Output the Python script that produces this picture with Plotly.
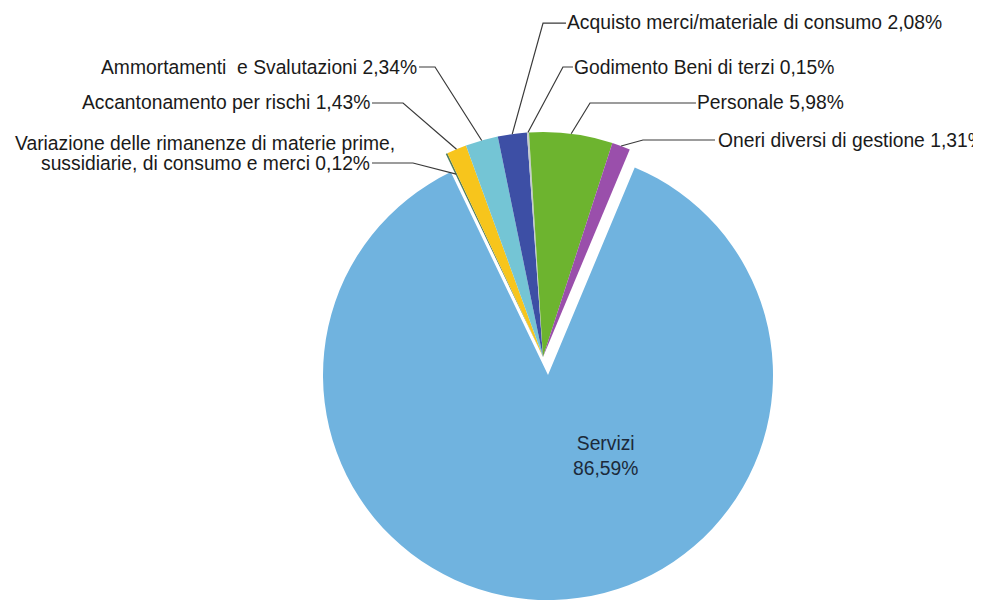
import math
import plotly.graph_objects as go

# slices, clockwise from the left edge of the exploded group
labels = [
    'Variazione delle rimanenze di materie prime,<br>sussidiarie, di consumo e merci',
    'Accantonamento per rischi',
    'Ammortamenti\u00a0 e Svalutazioni',
    'Acquisto merci/materiale di consumo',
    'Godimento Beni di terzi',
    'Personale',
    'Oneri diversi di gestione',
    'Servizi',
]
values = [0.12, 1.43, 2.34, 2.08, 0.15, 5.98, 1.31, 86.59]
colors = ['#4e7c5e', '#f7c51c', '#74c5d5', '#3d4fa5', '#c4cbcc',
          '#6db42f', '#9a4fab', '#70b3df']

W, H = 981, 601
OFF = 8                        # page body margin: figure is drawn 8px in
CX, CY, R = 548, 375, 225      # main pie centre / radius (screen px)
GX, GY = 543, 357              # centre of the pulled-out group (screen px)
ROT = -25.6
FS = 19.3
LINE_PX = 20
_FONT = 'Liberation Sans, Arial, sans-serif'
_LINE = '#3a3a3a'

# leader lines: elbow, end of horizontal part, text position, anchor radius factor
leaders = [
    ((413, 163), (372, 163), (205, 153, 'center'), 0.9),
    ((403, 103), (372, 103), (371, 103, 'right'), 1.0),
    ((435, 67), (419, 67), (418, 67, 'right'), 1.0),
    ((543, 23), (566, 23), (566, 23, 'left'), 1.0),
    ((563, 67), (573, 67), (573, 67, 'left'), 1.0),
    ((590, 103), (696, 103), (696, 103, 'left'), 1.0),
    ((643, 140), (715, 140), (717, 140, 'left'), 1.0),
]


def pct(v):
    return f'{v:.2f}'.replace('.', ',') + '%'


def px2paper(x, y):
    return (x - OFF) / W, 1 - (y - OFF) / H


def domain(cx, cy):
    x0, y1 = px2paper(cx - R, cy - R)
    x1, y0 = px2paper(cx + R, cy + R)
    return dict(x=[x0, x1], y=[max(y0, 0), y1])


n = len(values)
main_cols = ['rgba(0,0,0,0)'] * (n - 1) + [colors[-1]]
group_cols = colors[:-1] + ['rgba(0,0,0,0)']

fig = go.Figure()
for cols, (cx, cy) in [(main_cols, (CX, CY)), (group_cols, (GX, GY))]:
    fig.add_trace(go.Pie(
        labels=labels, values=values, sort=False, direction='clockwise',
        rotation=ROT, marker=dict(colors=cols, line=dict(width=0)),
        textinfo='none', domain=domain(cx, cy), showlegend=False,
    ))

total = sum(values)
cum = 0
shapes, annotations = [], []
for i, (elbow, end, (tx, ty, anchor), k) in enumerate(leaders):
    ang = math.radians(ROT + (cum + values[i] / 2) / total * 360)
    cum += values[i]
    ax = GX + R * k * math.sin(ang)
    ay = GY - R * k * math.cos(ang)
    pts = [px2paper(ax, ay), px2paper(*elbow), px2paper(*end)]
    path = 'M ' + ' L '.join(f'{x:.4f},{y:.4f}' for x, y in pts)
    shapes.append(dict(type='path', path=path, xref='paper', yref='paper',
                       line=dict(color=_LINE, width=1.2)))
    lines = f'{labels[i]} {pct(values[i])}'.split('<br>')
    for j, line in enumerate(lines):
        x, y = px2paper(tx, ty + (j - (len(lines) - 1) / 2) * LINE_PX)
        annotations.append(dict(
            x=x, y=y, xref='paper', yref='paper', xanchor=anchor, yanchor='middle',
            text=line, showarrow=False, borderpad=0,
            font=dict(size=FS, color='#1a1a1a', family=_FONT),
        ))

x, y = px2paper(605, 456)
annotations.append(dict(
    x=x, y=y, xref='paper', yref='paper', xanchor='center', yanchor='middle',
    text=f'{labels[-1]}<br>{pct(values[-1])}', showarrow=False,
    font=dict(size=FS, color='#1c2a3a', family=_FONT),
))

fig.update_layout(
    width=W, height=H,
    margin=dict(l=0, r=0, t=0, b=0),
    paper_bgcolor='white', plot_bgcolor='white',
    shapes=shapes, annotations=annotations,
)
fig.write_html('out.html')
